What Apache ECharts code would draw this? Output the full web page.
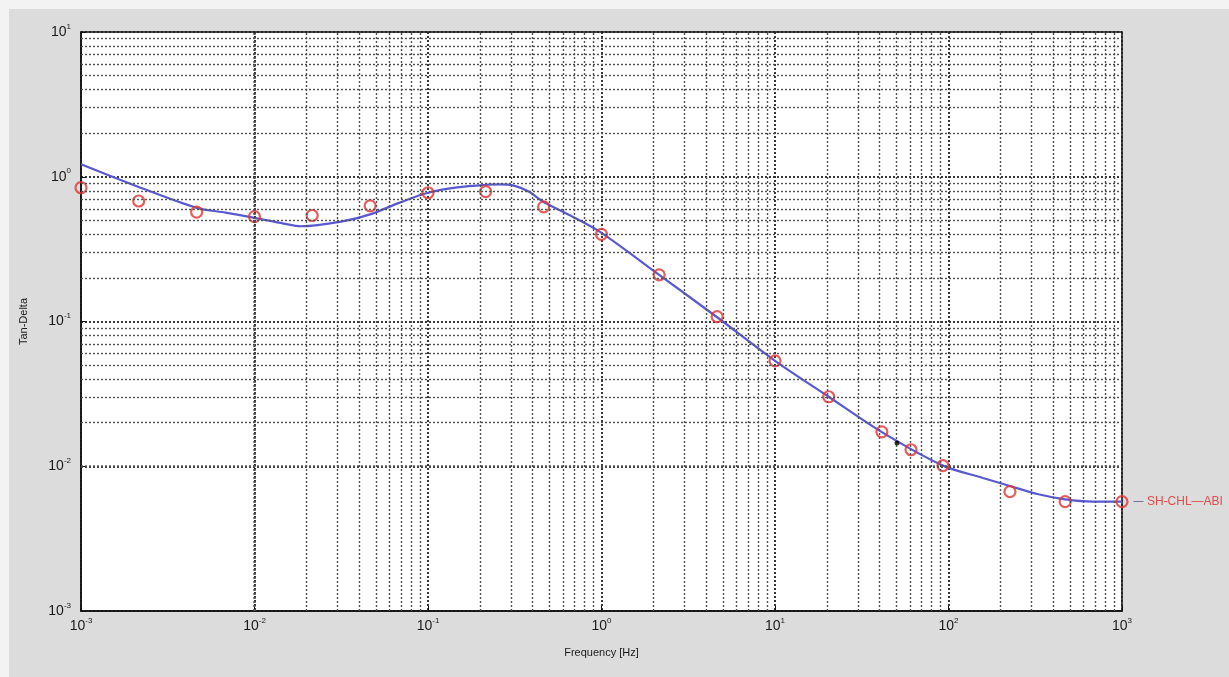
<!DOCTYPE html>
<html>
<head>
<meta charset="utf-8">
<script src="https://cdn.jsdelivr.net/npm/echarts@6/dist/echarts.min.js"></script>
<style>
html,body{margin:0;padding:0;background:#f3f3f3;width:1229px;height:677px;overflow:hidden;}
#c{position:absolute;left:9px;top:9px;width:1220px;height:668px;}
</style>
</head>
<body>
<div id="c"></div>
<script>
// Measured points (red circles)
const measFreq = [0.001, 0.00215, 0.00464, 0.01, 0.0215, 0.0464, 0.1, 0.215, 0.464, 1, 2.15, 4.64, 10, 20.4, 41.3, 60.8, 92.9, 226, 470, 1000];
const measTanD = [0.84, 0.68, 0.57, 0.53, 0.54, 0.63, 0.775, 0.79, 0.62, 0.40, 0.21, 0.108, 0.0535, 0.0302, 0.0173, 0.013, 0.0101, 0.00667, 0.00569, 0.00569];
// Fitted model curve (blue)
const fitFreq = [0.001, 0.00215, 0.00464, 0.0068, 0.01, 0.0147, 0.0185, 0.0316, 0.0464, 0.0681, 0.1, 0.147, 0.215, 0.26, 0.316, 0.38, 0.464, 0.681, 1, 2.15, 4.64, 10, 20.4, 41.3, 92.9, 158, 226, 330, 470, 680, 1000];
const fitTanD = [1.22, 0.85, 0.61, 0.565, 0.52, 0.475, 0.455, 0.49, 0.55, 0.66, 0.775, 0.845, 0.88, 0.885, 0.865, 0.79, 0.67, 0.53, 0.41, 0.21, 0.107, 0.0535, 0.0302, 0.0172, 0.0101, 0.0083, 0.0073, 0.0064, 0.0059, 0.0057, 0.0057];
// Single black marker
const markFreq = [50.5];
const markTanD = [0.0145];
// Axis ranges and labels
const xMin = 0.001, xMax = 1000;
const yMin = 0.001, yMax = 10;
const xTitle = 'Frequency [Hz]';
const yTitle = 'Tan-Delta';
const seriesName = 'SH-CHL—ABI';

function minorValues(lo, hi) {
  const out = [];
  for (let e = Math.round(Math.log10(lo)); e < Math.round(Math.log10(hi)); e++) {
    for (let k = 2; k <= 9; k++) out.push(k * Math.pow(10, e));
  }
  return out;
}
const xMinor = minorValues(xMin, xMax);
const yMinor = minorValues(yMin, yMax);

function expLabel(v) {
  const e = Math.round(Math.log10(v));
  return '{b|10}{e|' + e + '}';
}
const labelRich = {
  b: {fontSize: 14, fontFamily: 'Liberation Sans, Arial, sans-serif', color: '#1a1a1a'},
  e: {fontSize: 8, fontFamily: 'Liberation Sans, Arial, sans-serif', color: '#1a1a1a', padding: [0, 0, 11, 0]}
};

const gridDot = {color: '#505050', width: 1.4, type: [2, 2]};
const majorDot = {color: '#222', width: 1.8, type: [2, 2]};

const chart = echarts.init(document.getElementById('c'));
chart.setOption({
  backgroundColor: '#dcdcdc',
  animation: false,
  grid: {left: 72, top: 23, right: 107, bottom: 66, show: true, backgroundColor: '#ffffff', borderColor: '#111', borderWidth: 1.5},
  xAxis: {
    type: 'log', logBase: 10, min: xMin, max: xMax,
    name: xTitle, nameLocation: 'middle', nameGap: 36,
    nameTextStyle: {fontSize: 11, fontFamily: 'Liberation Sans, Arial, sans-serif', color: '#1a1a1a'},
    axisLine: {show: true, lineStyle: {color: '#111', width: 1.5}},
    axisTick: {show: true, inside: true, length: 5, lineStyle: {color: '#111'}},
    axisLabel: {formatter: expLabel, rich: labelRich, margin: 6},
    splitLine: {show: true, lineStyle: majorDot}
  },
  yAxis: {
    type: 'log', logBase: 10, min: yMin, max: yMax,
    name: yTitle, nameLocation: 'middle', nameGap: 52,
    nameTextStyle: {fontSize: 11, fontFamily: 'Liberation Sans, Arial, sans-serif', color: '#1a1a1a'},
    axisLine: {show: true, lineStyle: {color: '#111', width: 1.5}},
    axisTick: {show: true, inside: true, length: 5, lineStyle: {color: '#111'}},
    axisLabel: {formatter: expLabel, rich: labelRich, margin: 10},
    splitLine: {show: true, lineStyle: majorDot}
  },
  series: [
    {
      type: 'line', name: 'grid', data: [], silent: true,
      markLine: {
        silent: true, symbol: 'none', label: {show: false},
        lineStyle: gridDot,
        data: xMinor.map(v => ({xAxis: v})).concat(yMinor.map(v => ({yAxis: v})))
      }
    },
    {
      type: 'line', name: 'fit', z: 3,
      data: fitFreq.map((f, i) => [f, fitTanD[i]]),
      smooth: 0.3, showSymbol: false, symbol: 'none',
      lineStyle: {color: '#5a5ad0', width: 2.2}
    },
    {
      type: 'scatter', name: seriesName, z: 4,
      data: measFreq.map((f, i) => {
        const d = {value: [f, measTanD[i]]};
        if (i === measFreq.length - 1) {
          d.label = {
            show: true, position: 'right', distance: 5,
            formatter: '{d|—}{t| ' + seriesName + '}',
            rich: {
              d: {color: '#333366', fontSize: 10},
              t: {color: '#e02828', fontSize: 12, fontFamily: 'Liberation Sans, Arial, sans-serif'}
            }
          };
        }
        return d;
      }),
      symbol: 'circle', symbolSize: 11,
      itemStyle: {color: 'rgba(255,255,255,0)', borderColor: '#e03535', borderWidth: 2.2}
    },
    {
      type: 'scatter', name: 'marker', z: 5,
      data: markFreq.map((f, i) => [f, markTanD[i]]),
      symbol: 'circle', symbolSize: 5,
      itemStyle: {color: '#000'}
    }
  ]
});
</script>
</body>
</html>
